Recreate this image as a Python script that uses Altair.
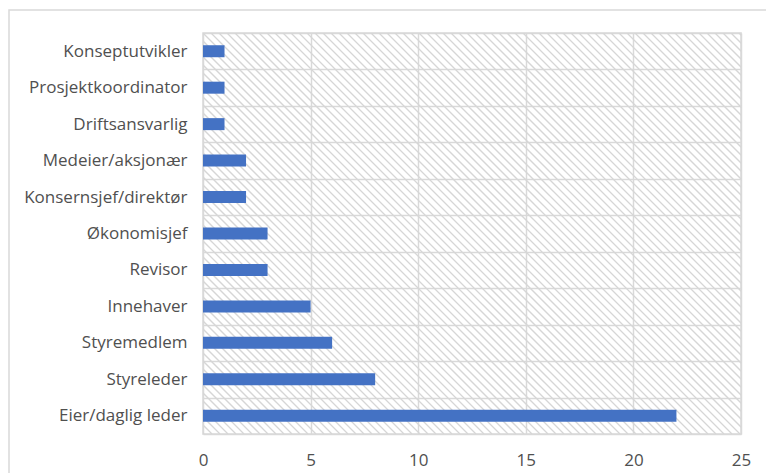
import altair as alt
import pandas as pd

# Roles and counts, listed top to bottom
roles = [
    "Konseptutvikler",
    "Prosjektkoordinator",
    "Driftsansvarlig",
    "Medeier/aksjonær",
    "Konsernsjef/direktør",
    "Økonomisjef",
    "Revisor",
    "Innehaver",
    "Styremedlem",
    "Styreleder",
    "Eier/daglig leder",
]
counts = [1, 1, 1, 2, 2, 3, 3, 5, 6, 8, 22]
x_ticks = [0, 5, 10, 15, 20, 25]

W, H = 538, 401
PAD_L, PAD_T = 203, 33
FONT = "Open Sans"
FONT_SIZE = 17
LABEL_COLOR = "#505050"
GRID = "#d9d9d9"

df = pd.DataFrame({"role": roles, "count": counts})

# Diagonal hatch lines for the plot background
step = 8
hatch = pd.DataFrame({"k": list(range(-(H // step) - 1, W // step + 2))})
hatch_layer = (
    alt.Chart(hatch)
    .transform_calculate(hx=f"datum.k * {step}", hx2=f"datum.k * {step} + {H}")
    .mark_rule(color="#d6d6d6", strokeWidth=1.3, clip=True)
    .encode(
        x=alt.X("hx:Q", scale=None),
        x2="hx2:Q",
        y=alt.value(0),
        y2=alt.value(H),
    )
)

bars = (
    alt.Chart(df)
    .mark_bar(color="#4472C4", size=12)
    .encode(
        x=alt.X(
            "count:Q",
            scale=alt.Scale(domain=[0, 25], nice=False),
            axis=alt.Axis(
                values=x_ticks,
                title=None,
                grid=True,
                gridColor=GRID,
                gridWidth=1.5,
                domain=False,
                ticks=False,
                labelFlush=False,
                labelPadding=18,
                labelFontSize=FONT_SIZE,
                labelFont=FONT,
                labelColor=LABEL_COLOR,
            ),
        ),
        y=alt.Y(
            "role:N",
            sort=roles,
            scale=alt.Scale(paddingInner=0, paddingOuter=0),
            axis=alt.Axis(
                title=None,
                grid=True,
                gridColor=GRID,
                gridWidth=1.5,
                tickBand="extent",
                domain=False,
                ticks=False,
                labelPadding=16,
                labelFontSize=FONT_SIZE,
                labelFont=FONT,
                labelColor=LABEL_COLOR,
            ),
        ),
    )
)

# Thin frame around the whole chart
frame = (
    alt.Chart(pd.DataFrame({"a": [0]}))
    .mark_rect(fill=None, stroke="#d9d9d9", strokeWidth=1.5, clip=False)
    .encode(
        x=alt.value(9 - PAD_L),
        x2=alt.value(766 - PAD_L + 10),
        y=alt.value(10 - PAD_T),
        y2=alt.value(473 - PAD_T + 10),
    )
)

chart = (
    alt.layer(hatch_layer, bars, frame)
    .resolve_scale(x="independent", y="independent")
    .properties(
        width=W,
        height=H,
        autosize=alt.AutoSizeParams(type="none"),
        padding={"left": PAD_L, "top": PAD_T, "right": 766 - PAD_L - W, "bottom": 473 - PAD_T - H},
        background="white",
    )
    .configure_view(stroke=GRID, strokeWidth=1.5)
)

chart.save("out.html", embed_options={"renderer": "svg", "actions": False})
